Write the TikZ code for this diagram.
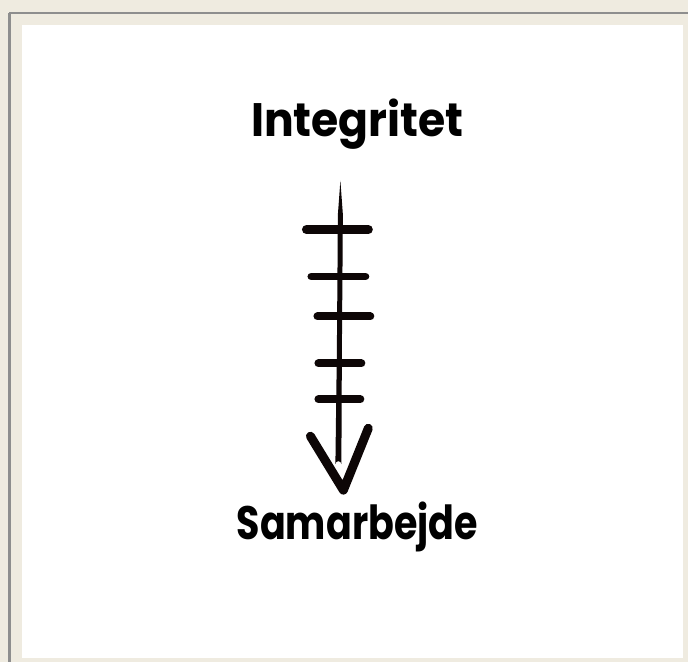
\documentclass[tikz,border=0pt]{standalone}
\usepackage{fontspec}
\setmainfont{Poppins}
\usepackage{tikz}
\usetikzlibrary{positioning}

\definecolor{framebg}{HTML}{EFEBE0}
\definecolor{frameline}{HTML}{8E8E8E}
\definecolor{ink}{HTML}{0D0606}
\tikzset{
  word/.style={font=\bfseries\fontsize{47}{52}\selectfont, inner sep=0pt},
  stroke/.style={line width=#1, line cap=round, ink},
}

\begin{document}
\begin{tikzpicture}[x=1pt,y=-1pt]
\fill[framebg] (0,0) rectangle (689,663);
\draw[frameline, line width=2.5pt] (9.5,13) -- (9.5,663);
\draw[frameline, line width=2.5pt] (9.5,13) -- (689,13);
\fill[white] (22,25) rectangle (684,659);
\useasboundingbox (0,0) rectangle (689,663);

\node[word] (top) at (358,124) {\scalebox{0.94}[1]{Integritet}};
\node[word] (bottom) at (358,528) {\scalebox{0.81}[1]{Samarbejde}};

% the arrow
\coordinate (shafttop) at (341,181);
\coordinate (shaftend) at (339,465);
\coordinate (tip) at (344,491);
\fill[ink] (shafttop) -- (343.5,215) -- (342.5,350) -- (342,465)
  arc[start angle=0, end angle=180, radius=3pt] -- (337.5,350) -- (338.5,215) -- cycle;
\draw[stroke=9pt] (307,230) -- (369,230);
\draw[stroke=8pt] (312,277) -- (366,277);
\draw[stroke=8pt] (318,317) -- (371,317);
\draw[stroke=8pt] (319,364) -- (362,364);
\draw[stroke=8pt] (319,400) -- (361,400);
\draw[stroke=9pt, line join=round] (311,437) -- (tip) -- (369,429);
\end{tikzpicture}
\end{document}
